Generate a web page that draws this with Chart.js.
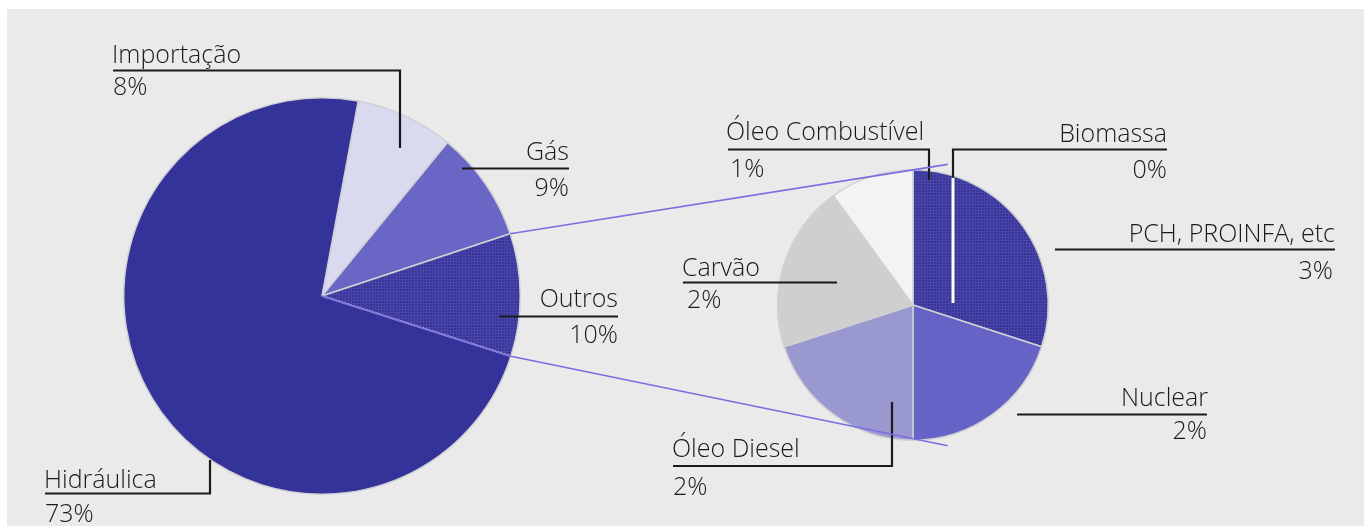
<!DOCTYPE html>
<html>
<head>
<meta charset="utf-8">
<script src="https://cdn.jsdelivr.net/npm/chart.js@4.4.1/dist/chart.umd.min.js"></script>
<style>
  html, body { margin: 0; padding: 0; background: #ffffff; }
  #wrap { position: relative; width: 1364px; height: 526px; overflow: hidden; }
  #bg { position: absolute; left: 7px; top: 9px; right: 0; bottom: 0; background: #eaeaea; }
  canvas { position: absolute; left: 0; top: 0; }
</style>
</head>
<body>
<div id="wrap">
  <div id="bg"></div>
  <canvas id="mainPie" width="1364" height="526"></canvas>
  <canvas id="detailPie" width="1364" height="526"></canvas>
</div>
<script>
// main pie: share of supply
const mainLabels = ['Importação', 'Gás', 'Outros', 'Hidráulica'];
const mainValues = [8, 9, 10, 73];

// breakdown of "Outros"
const detailLabels = ['PCH, PROINFA, etc', 'Nuclear', 'Óleo Diesel', 'Carvão', 'Óleo Combustível', 'Biomassa'];
const detailValues = [3, 2, 2, 2, 1, 0];

const FONT = '300 25px "Open Sans", sans-serif';
const INK = '#1a1a1a';
const LINK = '#7a6ee0';

// fine grid texture used on the darker slices
function makePattern(base, light) {
    const c = document.createElement('canvas');
    c.width = 3;
    c.height = 3;
    const g = c.getContext('2d');
    g.fillStyle = base;
    g.fillRect(0, 0, 3, 3);
    g.fillStyle = light;
    g.fillRect(0, 0, 3, 1);
    g.fillRect(0, 0, 1, 3);
    return g.createPattern(c, 'repeat');
}

const darkGrid = makePattern('#38359a', '#4a46a8');

const mainColors = ['#d9d9ef', '#6a66c6', darkGrid, '#343399'];
const detailColors = [darkGrid, '#6663c6', '#9998cf', '#cfcfcf', '#f3f3f3', '#f3f3f3'];

// label placement (text baseline anchors and leader paths), one per slice
const mainLayout = [
    { tx: 112, ty: 63, px: 113, py: 95, align: 'left', path: [[113, 70.5], [400, 70.5], [400, 148]] },
    { tx: 569, ty: 160, px: 569, py: 196, align: 'right', path: [[462, 168.5], [569, 168.5]] },
    { tx: 618, ty: 307, px: 618, py: 343, align: 'right', path: [[499, 316.5], [618, 316.5]] },
    { tx: 44, ty: 488, px: 45, py: 522, align: 'left', path: [[45, 493.5], [210, 493.5], [210, 460]] },
];
const detailLayout = [
    { tx: 1335, ty: 242, px: 1333, py: 279, align: 'right', path: [[1055, 249.5], [1335, 249.5]] },
    { tx: 1208, ty: 406, px: 1207, py: 439, align: 'right', path: [[1017, 414.5], [1207, 414.5]] },
    { tx: 672, ty: 457, px: 673, py: 495, align: 'left', path: [[673, 466], [892, 466], [892, 402]] },
    { tx: 682, ty: 276, px: 687, py: 308, align: 'left', path: [[683, 282.5], [837, 282.5]] },
    { tx: 726, ty: 140, px: 730, py: 177, align: 'left', path: [[728, 149.5], [929, 149.5], [929, 180]] },
    { tx: 1167, ty: 142, px: 1167, py: 178, align: 'right', path: [[1167, 149.5], [953, 149.5], [953, 303]] },
];

function drawLabels(ctx, labels, values, layout) {
    ctx.save();
    ctx.font = FONT;
    ctx.fillStyle = INK;
    ctx.strokeStyle = INK;
    ctx.lineWidth = 2.2;
    ctx.textBaseline = 'alphabetic';
    layout.forEach((l, i) => {
        ctx.beginPath();
        l.path.forEach((p, j) => (j ? ctx.lineTo(p[0], p[1]) : ctx.moveTo(p[0], p[1])));
        ctx.stroke();
        ctx.textAlign = l.align;
        ctx.fillText(labels[i], l.tx, l.ty);
        ctx.fillText(values[i] + '%', l.px, l.py);
    });
    ctx.restore();
}

const basePie = (labels, values, colors, padding) => ({
    type: 'pie',
    data: {
        labels: labels,
        datasets: [{
            data: values,
            backgroundColor: colors,
            borderColor: '#d0d0d4',
            borderWidth: 1.5,
        }],
    },
    options: {
        responsive: false,
        animation: false,
        layout: { padding: padding },
        plugins: { legend: { display: false }, tooltip: { enabled: false } },
    },
});

const mainCfg = basePie(mainLabels, mainValues, mainColors, { left: 123, right: 843, top: 97, bottom: 31 });
mainCfg.options.rotation = 10.5;
mainCfg.plugins = [{
    id: 'mainLabels',
    afterDraw(chart) {
        drawLabels(chart.ctx, mainLabels, mainValues, mainLayout);
    },
}];
const mainChart = new Chart(document.getElementById('mainPie'), mainCfg);

const detailCfg = basePie(detailLabels, detailValues, detailColors, { left: 777, right: 315, top: 169, bottom: 85 });
detailCfg.plugins = [{
    id: 'detailLabels',
    afterDraw(chart) {
        const ctx = chart.ctx;
        drawLabels(ctx, detailLabels, detailValues, detailLayout);

        // biomassa leader runs white inside the pie
        const arc = chart.getDatasetMeta(0).data[0];
        const bx = 953;
        const edgeY = arc.y - Math.sqrt(arc.outerRadius ** 2 - (bx - arc.x) ** 2);
        ctx.save();
        ctx.strokeStyle = '#ffffff';
        ctx.lineWidth = 3;
        ctx.beginPath();
        ctx.moveTo(bx, edgeY + 2);
        ctx.lineTo(bx, 303);
        ctx.stroke();

        // connectors from the "Outros" slice to the breakdown pie
        const src = mainChart.getDatasetMeta(0).data[2];
        const r = src.outerRadius;
        const p0 = [src.x + r * Math.cos(src.startAngle), src.y + r * Math.sin(src.startAngle)];
        const p1 = [src.x + r * Math.cos(src.endAngle), src.y + r * Math.sin(src.endAngle)];
        const ex = arc.x + arc.outerRadius * 0.257;
        const top = arc.y - arc.outerRadius * 1.04;
        const bottom = arc.y + arc.outerRadius * 1.04;
        ctx.strokeStyle = LINK;
        ctx.lineWidth = 1.6;
        ctx.beginPath();
        ctx.moveTo(p0[0], p0[1]);
        ctx.lineTo(ex, top);
        ctx.moveTo(src.x, src.y);
        ctx.lineTo(p1[0], p1[1]);
        ctx.lineTo(ex, bottom);
        ctx.stroke();
        ctx.restore();
    },
}];
new Chart(document.getElementById('detailPie'), detailCfg);
</script>
</body>
</html>
